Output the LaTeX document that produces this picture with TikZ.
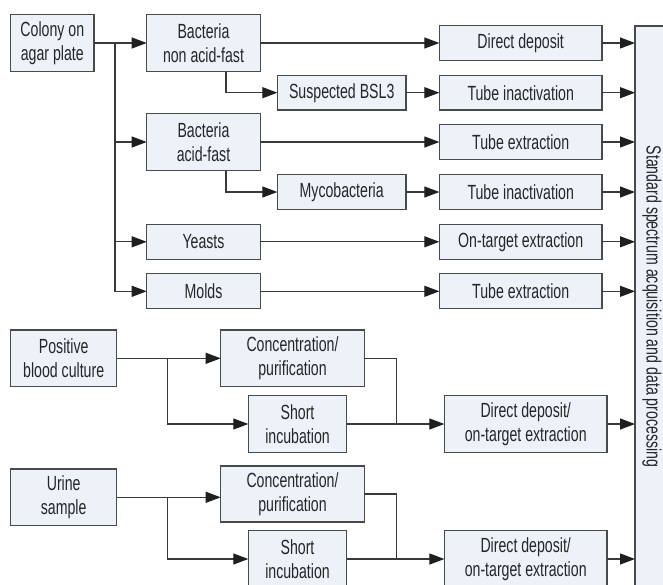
\documentclass[tikz,border=0pt]{standalone}
\usepackage{fontspec}
\setmainfont[FakeStretch=0.69]{Liberation Sans}
\usetikzlibrary{arrows.meta,calc}
\definecolor{boxfill}{HTML}{EDF2F9}
\definecolor{boxline}{HTML}{4A4A4A}
\definecolor{linecol}{HTML}{3A3A3A}
\definecolor{txt}{HTML}{262626}
\begin{document}
\begin{tikzpicture}[x=1pt,y=-1pt,
  box/.style={draw=boxline, fill=boxfill, line width=1.2pt, inner sep=0pt, outer sep=0pt,
    font=\fontsize{20.5}{23.5}\selectfont, text=txt, align=center},
  conn/.style={draw=linecol, line width=1.1pt},
  arr/.style={conn, -{Triangle[length=15pt,width=11pt,fill=black!88,color=black!88]}}]
\useasboundingbox (0,0) rectangle (663,584);
\clip (0,0) rectangle (663,584);
\fill[white] (0,0) rectangle (663,584);

% sources
\node[box, minimum width=83.3pt, minimum height=57.4pt] (colony) at (52.3,43) {Colony on\\agar plate};
\node[box, minimum width=106pt, minimum height=56.7pt] (pbc) at (63.7,358.3) {Positive\\blood culture};
\node[box, minimum width=106pt, minimum height=56.7pt] (urine) at (63.7,497.3) {Urine\\sample};

% organism types
\node[box, minimum width=113.6pt, minimum height=57.4pt] (bnaf) at (203.5,43) {Bacteria\\non acid-fast};
\node[box, minimum width=113.6pt, minimum height=57.4pt] (baf) at (203.5,142) {Bacteria\\acid-fast};
\node[box, minimum width=113.6pt, minimum height=35pt] (yeasts) at (203.5,241.8) {Yeasts};
\node[box, minimum width=113.6pt, minimum height=35pt] (molds) at (203.5,291.3) {Molds};
\node[box, minimum width=128.7pt, minimum height=34.7pt] (bsl3) at (341.7,92.7) {Suspected BSL3};
\node[box, minimum width=128.7pt, minimum height=34.7pt] (myco) at (341.7,192) {Mycobacteria};

% preparation
\node[box, minimum width=162.7pt, minimum height=35.4pt] (dd) at (520.7,43) {Direct deposit};
\node[box, minimum width=162.7pt, minimum height=34.7pt] (ti1) at (520.7,92.7) {Tube inactivation};
\node[box, minimum width=162.7pt, minimum height=34.7pt] (te1) at (520.7,142) {Tube extraction};
\node[box, minimum width=162.7pt, minimum height=34.7pt] (ti2) at (520.7,192) {Tube inactivation};
\node[box, minimum width=162.7pt, minimum height=35pt] (ote) at (520.7,241.8) {On-target extraction};
\node[box, minimum width=162.7pt, minimum height=35pt] (te2) at (520.7,291.3) {Tube extraction};

% blood / urine
\node[box, minimum width=143.6pt, minimum height=56.7pt] (conc1) at (292.5,358.3) {Concentration/\\purification};
\node[box, minimum width=98.4pt, minimum height=56.6pt] (short1) at (297.5,424) {Short\\incubation};
\node[box, minimum width=162.7pt, minimum height=56.6pt] (ddo1) at (525.7,424) {Direct deposit/\\on-target extraction};
\node[box, minimum width=143.6pt, minimum height=56pt] (conc2) at (292.5,494) {Concentration/\\purification};
\node[box, minimum width=98.4pt, minimum height=56.6pt] (short2) at (297.5,559) {Short\\incubation};
\node[box, minimum width=162.7pt, minimum height=56.6pt] (ddo2) at (525.7,559) {Direct deposit/\\on-target extraction};

% final step
\node[box, minimum width=34pt, minimum height=561pt] (big) at (652,306.5)
  {\rotatebox{-90}{Standard spectrum acquisition and data processing}};

% colony connectors
\coordinate (tr) at (115,43);
\draw[arr] (colony.east) -- (bnaf.west);
\draw[arr] (tr) |- (baf.west);
\draw[arr] (tr) |- (yeasts.west);
\draw[arr] (tr) |- (molds.west);
\draw[arr] (bnaf.east) -- (dd.west);
\draw[arr] (bnaf.south west) ++(79.3,0) |- (bsl3.west);
\draw[arr] (bsl3.east) -- (ti1.west);
\draw[arr] (baf.east) -- (te1.west);
\draw[arr] (baf.south west) ++(79.3,0) |- (myco.west);
\draw[arr] (myco.east) -- (ti2.west);
\draw[arr] (yeasts.east) -- (ote.west);
\draw[arr] (molds.east) -- (te2.west);

% blood culture connectors
\coordinate (j1) at (167.3,358.3);
\coordinate (k1) at (396.7,424);
\draw[arr] (pbc.east) -- (conc1.west);
\draw[arr] (j1) |- (short1.west);
\draw[conn] (conc1.east) -| (k1);
\draw[arr] (short1.east) -- (ddo1.west);

% urine connectors
\coordinate (j2) at (167.3,497.3);
\coordinate (k2) at (396.7,559);
\draw[arr] (urine.east) -- (urine.east -| conc2.west);
\draw[arr] (j2) |- (short2.west);
\draw[conn] (conc2.east) -| (k2);
\draw[arr] (short2.east) -- (ddo2.west);

% to final step
\foreach \n in {dd,ti1,te1,ti2,ote,te2,ddo1,ddo2}
  \draw[arr] (\n.east) -- (\n.east -| big.west);
\end{tikzpicture}
\end{document}
